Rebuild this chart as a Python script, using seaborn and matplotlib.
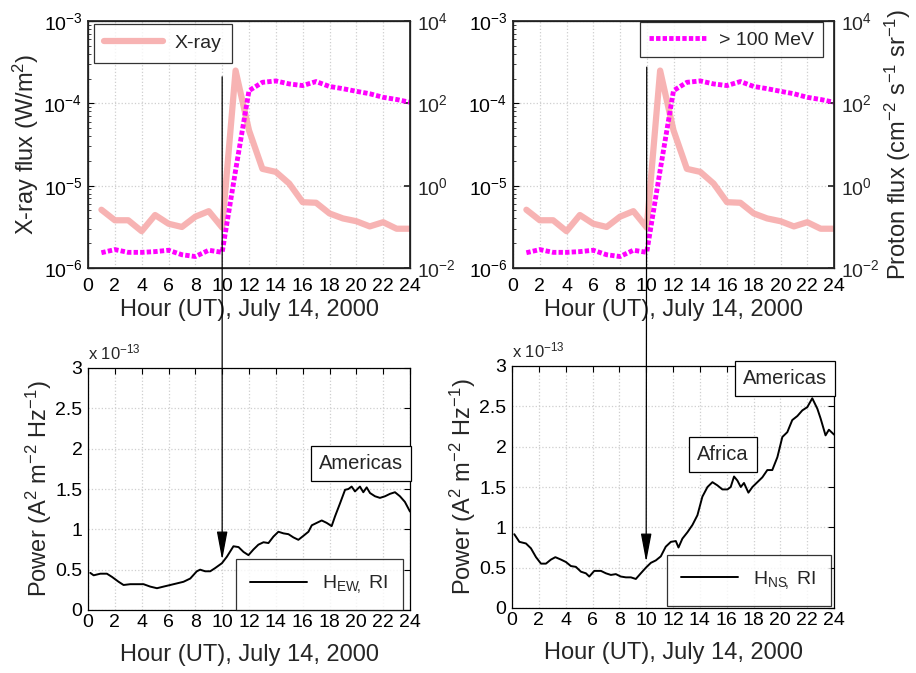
import numpy as np
import pandas as pd
import matplotlib
matplotlib.use("Agg")
import matplotlib.pyplot as plt
import seaborn as sns
from matplotlib.patches import ConnectionPatch
from matplotlib.lines import Line2D

# ---------------- data ----------------
hours = list(range(1, 25))
xray_flux = [5.1e-6, 3.8e-6, 3.8e-6, 2.8e-6, 4.4e-6, 3.45e-6, 3.15e-6, 4.2e-6,
             4.9e-6, 3.1e-6, 2.5e-4, 4.7e-5, 1.6e-5, 1.47e-5, 1.06e-5, 6.3e-6,
             6.2e-6, 4.6e-6, 4.0e-6, 3.7e-6, 3.2e-6, 3.6e-6, 3.0e-6, 3.0e-6]
proton_flux = [0.0235, 0.028, 0.024, 0.024, 0.025, 0.027, 0.021, 0.019,
               0.027, 0.024, 2.35, 203, 324, 350, 296, 270,
               338, 257, 227, 196, 171, 140, 124, 106]

ew_hour = [0.17, 0.42, 0.92, 1.41, 1.79, 2.28, 2.65, 3.15, 3.65, 4.14, 4.64, 5.14,
           5.63, 6.13, 6.63, 7.12, 7.62, 8.11, 8.36, 8.73, 9.11, 9.48, 9.98, 10.35,
           10.84, 11.22, 11.59, 11.96, 12.33, 12.7, 13.08, 13.45, 13.82, 14.19, 14.57,
           14.94, 15.31, 15.68, 16.06, 16.43, 16.68, 17.05, 17.42, 17.79, 18.16, 18.41,
           18.78, 19.16, 19.41, 19.65, 19.90, 20.27, 20.52, 20.77, 21.02, 21.39, 21.76,
           22.14, 22.51, 22.88, 23.25, 23.62, 24.0]
ew_power = [0.46, 0.43, 0.45, 0.45, 0.41, 0.35, 0.31, 0.32, 0.32, 0.32, 0.29, 0.27,
            0.29, 0.31, 0.33, 0.35, 0.39, 0.48, 0.50, 0.48, 0.48, 0.52, 0.58, 0.66,
            0.79, 0.78, 0.72, 0.68, 0.75, 0.81, 0.84, 0.83, 0.91, 0.97, 0.95,
            0.94, 0.90, 0.87, 0.92, 0.97, 1.05, 1.08, 1.11, 1.08, 1.04, 1.16,
            1.32, 1.49, 1.50, 1.53, 1.47, 1.53, 1.46, 1.52, 1.45, 1.41, 1.39,
            1.41, 1.44, 1.46, 1.41, 1.34, 1.22]

ns_hour = [0.17, 0.55, 1.04, 1.41, 1.79, 2.16, 2.53, 2.9, 3.23, 3.65, 4.02, 4.39,
           4.76, 5.14, 5.51, 5.76, 6.13, 6.63, 7.0, 7.37, 7.74, 8.11, 8.49, 8.86,
           9.23, 9.6, 9.98, 10.35, 10.72, 11.09, 11.46, 11.84, 12.21, 12.41, 12.7,
           13.08, 13.45, 13.82, 14.19, 14.57, 14.94, 15.31, 15.68, 16.06, 16.3, 16.55,
           16.8, 17.05, 17.29, 17.62, 17.92, 18.29, 18.66, 19.03, 19.4, 19.78, 20.15,
           20.52, 20.89, 21.27, 21.64, 22.01, 22.38, 22.76, 23.0, 23.37, 23.62, 24.0]
ns_power = [0.915, 0.82, 0.80, 0.74, 0.63, 0.55, 0.55, 0.60, 0.63, 0.60, 0.57, 0.52,
            0.51, 0.45, 0.43, 0.39, 0.46, 0.46, 0.43, 0.41, 0.42, 0.39, 0.38, 0.38,
            0.36, 0.43, 0.50, 0.56, 0.59, 0.64, 0.76, 0.82, 0.83, 0.75, 0.86,
            0.94, 1.03, 1.15, 1.38, 1.50, 1.56, 1.52, 1.47, 1.47, 1.50, 1.63,
            1.58, 1.50, 1.55, 1.43, 1.50, 1.56, 1.62, 1.71, 1.71, 1.87, 2.12,
            2.18, 2.33, 2.38, 2.45, 2.49, 2.60, 2.47, 2.35, 2.14, 2.21, 2.15]

x_ticks = list(range(0, 25, 2))
power_ticks = [0, 0.5, 1, 1.5, 2, 2.5, 3]
power_ticklabels = ['0', '0.5', '1', '1.5', '2', '2.5', '3']

# ---------------- style ----------------
sns.set_theme(style="white")
plt.rcParams['font.family'] = ['Liberation Sans', 'DejaVu Sans']
plt.rcParams['mathtext.fontset'] = 'custom'
plt.rcParams['mathtext.rm'] = 'Liberation Sans'
plt.rcParams['mathtext.it'] = 'Liberation Sans'
plt.rcParams['mathtext.default'] = 'regular'

TICK_FS = 14
LAB_FS = 17
XRAY_C = '#f7abab'
PROT_C = '#ff00ff'
PROT_LS = (0, (0.9, 0.45))
GRID_KW = dict(color='#cfcfcf', linestyle=':', linewidth=0.9)

fig = plt.figure(figsize=(9.16, 6.73), dpi=100)
W, H = 916.0, 673.0
def pos(l, t, r, b):
    return [l / W, 1 - b / H, (r - l) / W, (b - t) / H]

ax_tl = fig.add_axes(pos(88, 21, 410, 268))
ax_tr = fig.add_axes(pos(513, 21, 834, 268))
ax_bl = fig.add_axes(pos(88, 368, 410, 610))
ax_br = fig.add_axes(pos(512, 366, 834, 608))

df_top = pd.DataFrame({'hour': hours, 'xray': xray_flux, 'proton': proton_flux})
df_ew = pd.DataFrame({'hour': ew_hour, 'power': ew_power})
df_ns = pd.DataFrame({'hour': ns_hour, 'power': ns_power})

def style_ticks(ax, right=True, top=True):
    ax.tick_params(axis='both', which='major', direction='in', labelsize=TICK_FS,
                   top=top, right=right, colors='black', length=4, width=0.8, pad=4)
    ax.tick_params(axis='both', which='minor', direction='in', top=top, right=right,
                   length=2, width=0.6)
    for s in ax.spines.values():
        s.set_color('black')
        s.set_linewidth(0.9)

twins = []
for ax, which in [(ax_tl, 'left'), (ax_tr, 'right')]:
    sns.lineplot(data=df_top, x='hour', y='xray', ax=ax, color=XRAY_C, lw=4.5,
                 alpha=0.9, legend=False)
    ax.set_yscale('log')
    ax.set_ylim(1e-6, 1e-3)
    ax.set_xlim(0, 24)
    ax.set_xticks(x_ticks)
    ax.grid(True, which='major', **GRID_KW)
    style_ticks(ax, right=False, top=False)
    ax.tick_params(axis='x', pad=7)
    ax.set_xlabel('Hour (UT), July 14, 2000', fontsize=LAB_FS, labelpad=3)
    if which == 'left':
        ax.set_ylabel('X-ray flux (W/m$^2$)', fontsize=LAB_FS, labelpad=2)
    else:
        ax.set_ylabel('')
    ax2 = ax.twinx()
    sns.lineplot(data=df_top, x='hour', y='proton', ax=ax2, color=PROT_C, lw=3.5,
                 linestyle=PROT_LS, legend=False)
    ax2.set_yscale('log')
    ax2.set_ylim(1e-2, 1e4)
    ax2.set_yticks([1e-2, 1e0, 1e2, 1e4])
    ax2.minorticks_off()
    ax2.tick_params(axis='y', direction='in', labelsize=TICK_FS, length=4, pad=5)
    if which == 'right':
        ax2.set_ylabel('Proton flux (cm$^{-2}$ s$^{-1}$ sr$^{-1}$)', fontsize=LAB_FS, labelpad=2)
    else:
        ax2.set_ylabel('')
    twins.append(ax2)

# legends for top panels
h_x = Line2D([], [], color=XRAY_C, lw=4.5, alpha=0.9)
leg = twins[0].legend([h_x], ['X-ray'], loc='upper left', bbox_to_anchor=(0.018, 0.988),
                      fontsize=14, handlelength=3.0, handletextpad=0.6, frameon=True,
                      fancybox=False, borderpad=0.55, borderaxespad=0.0)
leg.get_frame().set_edgecolor('black'); leg.get_frame().set_linewidth(0.9)
h_p = Line2D([], [], color=PROT_C, lw=3.5, linestyle=PROT_LS)
leg = twins[1].legend([h_p], ['> 100 MeV'], loc='upper right', bbox_to_anchor=(0.965, 0.995),
                      fontsize=14, handlelength=3.0, handletextpad=0.6, frameon=True,
                      fancybox=False, borderpad=0.45, borderaxespad=0.0)
leg.get_frame().set_edgecolor('black'); leg.get_frame().set_linewidth(0.9)

# bottom panels
for ax, df, lab, anchor in [(ax_bl, df_ew, r'H$_{EW\!,}$ RI', (0.978, 0.0)),
                            (ax_br, df_ns, r'H$_{NS\!,}$ RI', (0.99, 0.01))]:
    sns.lineplot(data=df, x='hour', y='power', ax=ax, color='black', lw=1.4, legend=False)
    ax.set_xlim(0, 24)
    ax.set_ylim(0, 3)
    ax.set_xticks(x_ticks)
    ax.set_yticks(power_ticks)
    ax.set_yticklabels(power_ticklabels)
    ax.grid(True, which='major', **GRID_KW)
    style_ticks(ax)
    ax.tick_params(axis='x', pad=3)
    ax.set_xlabel('Hour (UT), July 14, 2000', fontsize=LAB_FS, labelpad=9)
    ax.set_ylabel('Power (A$^2$ m$^{-2}$ Hz$^{-1}$)', fontsize=LAB_FS, labelpad=1)
    ax.text(0.0, 1.025, r'x 10$^{-13}$', transform=ax.transAxes, fontsize=12,
            ha='left', va='bottom')
    hl = Line2D([], [], color='black', lw=1.4)
    lg = ax.legend([hl], [lab], loc='lower right', bbox_to_anchor=anchor,
                   fontsize=14, handlelength=2.9, handletextpad=0.8, frameon=True,
                   fancybox=False, borderpad=0.75, borderaxespad=0.0)
    lg.get_frame().set_edgecolor('black'); lg.get_frame().set_linewidth(0.9)

box = dict(boxstyle='square,pad=0.4', facecolor='white', edgecolor='black', linewidth=0.9)
ax_bl.text(23.5, 1.82, 'Americas', fontsize=14.5, ha='right', va='center', bbox=box)
ax_br.text(23.5, 2.85, 'Americas', fontsize=14.5, ha='right', va='center', bbox=box)
ax_br.text(15.7, 1.9, 'Africa', fontsize=14.5, ha='center', va='center', bbox=box)

# arrows from top panels to bottom panels at 10 UT
for axt, axb, ystart, yend in [(ax_tl, ax_bl, 2.1e-4, 0.62), (ax_tr, ax_br, 2.75e-4, 0.57)]:
    con = ConnectionPatch(xyA=(10, ystart), coordsA=axt.transData,
                          xyB=(10, yend), coordsB=axb.transData,
                          arrowstyle='-|>,head_length=1.6,head_width=0.3',
                          color='black', lw=0.9, mutation_scale=11, zorder=10)
    fig.add_artist(con)

fig.savefig('out.png', dpi=100)
